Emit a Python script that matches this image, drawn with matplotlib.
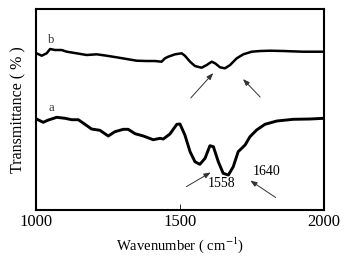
import matplotlib
matplotlib.use("Agg")
import matplotlib.pyplot as plt

plt.rcParams['font.family'] = ['Liberation Serif', 'DejaVu Serif']
plt.rcParams['mathtext.fontset'] = 'stix'

# curve b (upper)
wn_b = [1000, 1002, 1020, 1037, 1049, 1066, 1089, 1107, 1141, 1176, 1211, 1245, 1280,
        1315, 1350, 1384, 1413, 1436, 1448, 1459, 1483, 1506, 1517, 1535, 1552, 1575,
        1593, 1610, 1622, 1639, 1656, 1674, 1697, 1720, 1749, 1778, 1813, 1859, 1927, 2000]
t_b = [156.7, 156.7, 154.3, 156.7, 161, 160, 160, 158.3, 156.7, 155, 155.7, 154.3, 152.7,
       151, 149.3, 149, 149, 148.3, 151.7, 153.3, 155.7, 156.7, 154.3, 148.3, 144, 142.3,
       145, 148.3, 146.7, 142.7, 141.7, 145, 151.7, 155.7, 158.3, 159, 159.3, 159, 158.3, 158.3]

# curve a (lower)
wn_a = [1000, 1002, 1025, 1043, 1072, 1101, 1124, 1147, 1170, 1193, 1222, 1251, 1274,
        1303, 1320, 1344, 1373, 1407, 1431, 1442, 1465, 1489, 1500, 1517, 1535, 1552,
        1569, 1587, 1604, 1616, 1633, 1650, 1668, 1685, 1702, 1726, 1743, 1766, 1795,
        1836, 1893, 1951, 2000]
t_a = [91, 91, 87.7, 90, 92.7, 91.7, 90.3, 90.3, 85.7, 81, 79.7, 74, 78.3,
       80.7, 80.7, 76.3, 74, 70.3, 71.7, 71, 76, 85.7, 86, 75, 58.3, 48.3,
       45.7, 51.7, 64.3, 63.3, 48.3, 36.7, 35, 43.3, 58.3, 65, 73.3, 80, 85.7,
       89, 90.7, 91, 91.7]

xticks = [1000, 1500, 2000]

fig = plt.figure(figsize=(3.48, 2.65), dpi=100)
ax = fig.add_axes([0.1034, 0.2075, 0.8276, 0.7585])
ax.plot(wn_b, t_b, color='black', lw=1.8, solid_joinstyle='round', solid_capstyle='round')
ax.plot(wn_a, t_a, color='black', lw=2.1, solid_joinstyle='round', solid_capstyle='round')
ax.set_xlim(1000, 2000)
ax.set_ylim(0, 201)
ax.set_xticks(xticks)
ax.set_xticklabels([str(v) for v in xticks], fontsize=12)
ax.set_yticks([])
ax.tick_params(axis='x', direction='in', length=4, width=0.6, pad=3, colors='black')
for s in ax.spines.values():
    s.set_linewidth(1.5)

ax.set_xlabel('Wavenumber ( cm$^{-1}$)', fontsize=10.5, labelpad=4)
ax.set_ylabel('Transmittance ( % )', fontsize=11.5, labelpad=7)

ax.text(1052, 170, 'b', fontsize=9, ha='center', va='center', color='#333333')
ax.text(1052, 102, 'a', fontsize=9, ha='center', va='center', color='#333333')

arr = dict(arrowstyle='-|>,head_length=0.4,head_width=0.15', color='#333333', lw=0.7)
ax.annotate('', xy=(1622, 139), xytext=(1531, 110), arrowprops=arr)
ax.annotate('', xy=(1712, 133), xytext=(1785, 111), arrowprops=arr)
ax.annotate('', xy=(1615, 39), xytext=(1514, 22), arrowprops=arr)
ax.annotate('', xy=(1736, 31), xytext=(1840, 11), arrowprops=arr)
ax.text(1646, 27, '1558', fontsize=10, ha='center', va='center')
ax.text(1802, 39, '1640', fontsize=10, ha='center', va='center')

fig.savefig('out.png', dpi=100)
